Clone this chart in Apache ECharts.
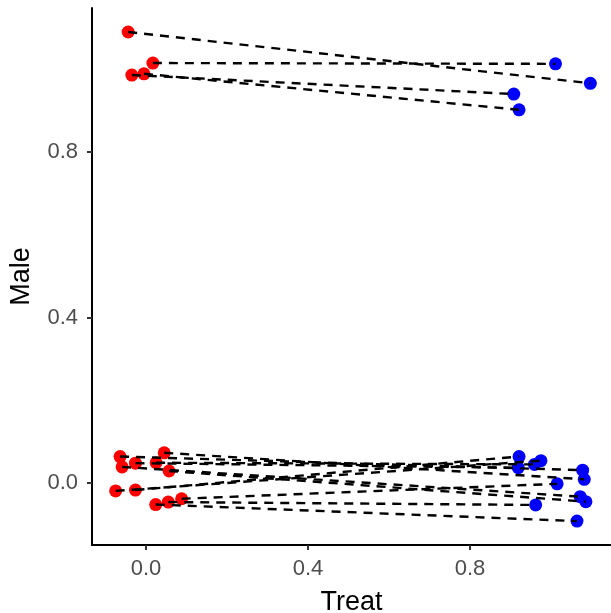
<!DOCTYPE html>
<html>
<head>
<meta charset="utf-8">
<script src="https://cdn.jsdelivr.net/npm/echarts@6/dist/echarts.min.js"></script>
<style>html,body{margin:0;padding:0;background:#fff}#c{width:611px;height:613px}</style>
</head>
<body>
<div id="c"></div>
<script>
// Pair i: control (Treat≈0, red) -> treated (Treat≈1, blue)
var redX  = [-0.044, 0.017, -0.035, -0.005, -0.064, -0.059, -0.026, 0.025, 0.045, 0.057, -0.075, -0.026, 0.024, 0.055, 0.088];
var redY  = [ 1.090, 1.015,  0.986,  0.989,  0.064,  0.039,  0.048, 0.049, 0.073, 0.029, -0.019, -0.017, -0.052, -0.046, -0.038];
var blueX = [ 1.097, 1.011,  0.908,  0.921,  1.078,  1.072,  0.919, 0.959, 1.082, 1.086,  0.975,  0.921,  1.064,  0.962,  1.015];
var blueY = [ 0.966, 1.013,  0.940,  0.902,  0.031, -0.033,  0.037, 0.045, 0.009, -0.045, 0.054,  0.064, -0.092, -0.053, -0.002];
var xTicks = [0, 0.4, 0.8];
var yTicks = [0, 0.4, 0.8];
var xTitle = 'Treat';
var yTitle = 'Male';

var chart = echarts.init(document.getElementById('c'), null, {renderer: 'canvas'});
var series = [];
redX.forEach(function (x, i) {
  series.push({
    type: 'line',
    data: [[redX[i], redY[i]], [blueX[i], blueY[i]]],
    symbol: 'none',
    lineStyle: {color: '#000', width: 2.4, type: [9, 7]},
    z: 3,
    silent: true
  });
});
series.push({
  type: 'scatter',
  data: redX.map(function (x, i) { return [x, redY[i]]; }),
  symbolSize: 13,
  itemStyle: {color: '#FF0000', opacity: 1},
  z: 2
});
series.push({
  type: 'scatter',
  data: blueX.map(function (x, i) { return [x, blueY[i]]; }),
  symbolSize: 13,
  itemStyle: {color: '#0000FF', opacity: 1},
  z: 2
});

var labelStyle = {color: '#4D4D4D', fontSize: 22, fontFamily: 'Liberation Sans'};
chart.setOption({
  animation: false,
  backgroundColor: '#fff',
  grid: {left: 92, right: 0, top: 8, bottom: 68, containLabel: false, outerBoundsMode: 'none'},
  xAxis: {
    type: 'value', min: -0.1333, max: 1.148,
    name: xTitle, nameLocation: 'middle', nameGap: 44,
    nameTextStyle: {color: '#000', fontSize: 27, fontFamily: 'Liberation Sans'},
    axisLine: {onZero: false, lineStyle: {color: '#000', width: 2}},
    axisTick: {show: true, length: 5, customValues: xTicks, lineStyle: {color: '#333', width: 2}},
    axisLabel: Object.assign({margin: 13, customValues: xTicks, formatter: function (v) { return v.toFixed(1); }}, labelStyle),
    splitLine: {show: false}
  },
  yAxis: {
    type: 'value', min: -0.1498, max: 1.148,
    name: yTitle, nameLocation: 'middle', nameGap: 57, nameRotate: 90,
    nameTextStyle: {color: '#000', fontSize: 27, fontFamily: 'Liberation Sans'},
    axisLine: {onZero: false, lineStyle: {color: '#000', width: 2}},
    axisTick: {show: true, length: 5, customValues: yTicks, lineStyle: {color: '#333', width: 2}},
    axisLabel: Object.assign({margin: 14, customValues: yTicks, formatter: function (v) { return v.toFixed(1); }}, labelStyle),
    splitLine: {show: false}
  },
  series: series
});
</script>
</body>
</html>
